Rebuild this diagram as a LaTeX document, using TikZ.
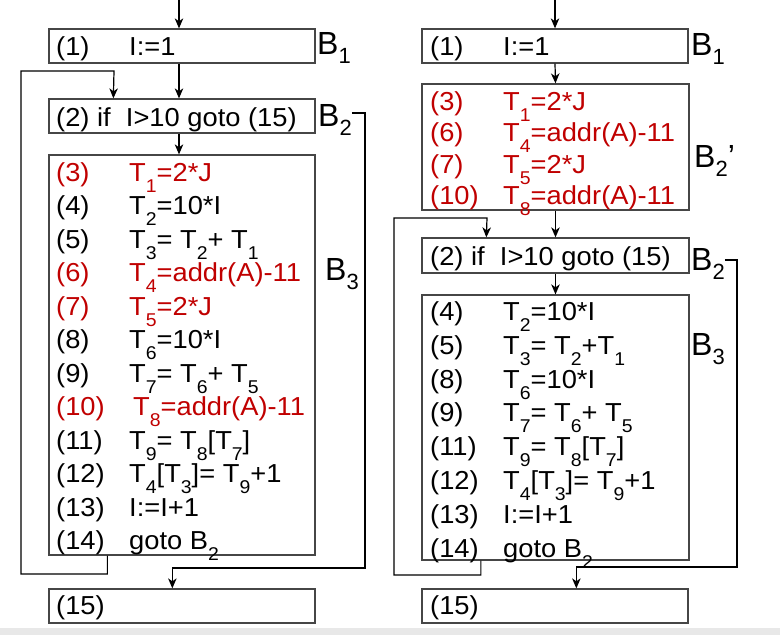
\documentclass[tikz,border=0pt]{standalone}
\usepackage{fontspec}
\setmainfont{Liberation Sans}
\newfontfamily\codefam{Liberation Sans}[FakeStretch=1.05]
\usepackage{xcolor}
\usetikzlibrary{arrows.meta}

\definecolor{codered}{RGB}{192,0,0}
\definecolor{boxline}{RGB}{70,70,70}
% index and statement helpers
\newcommand{\ix}[1]{\raisebox{-11pt}[0pt][0pt]{\fontsize{18.5}{18.5}\selectfont #1}}
\newcommand{\lx}[1]{\raisebox{-9pt}[0pt][0pt]{\fontsize{22}{22}\selectfont #1}}
\newcommand{\stno}[1]{\makebox[73pt][l]{#1}}
\newcommand{\hl}{\color{codered}}

\begin{document}
\begin{tikzpicture}[x=1pt,y=-1pt,
    blk/.style={draw=boxline, line width=1.3pt, inner sep=0pt},
    code/.style={inner sep=0pt, anchor=base west, font=\codefam\fontsize{26}{33.5}\selectfont},
    blab/.style={inner sep=0pt, anchor=base west, font=\fontsize{32}{32}\selectfont},
    arr/.style={line width=1.2pt, -{Stealth[length=10pt,width=8.5pt,inset=3pt]}}]
    \useasboundingbox (0,0) rectangle (780,635);
    \fill[gray!18] (0,628) rectangle (780,635);

    % left: before the move
    \node[blk, minimum width=266pt, minimum height=34pt] (lb1) at (182,46) {};
    \node[blk, minimum width=266pt, minimum height=34pt] (lb2) at (182,116) {};
    \node[blk, minimum width=266pt, minimum height=400pt] (lb3) at (182,355) {};
    \node[blk, minimum width=266pt, minimum height=34pt] (lb15) at (182,606) {};

    \node[code] (lt1) at (56,55) {\stno{(1)}I:=1};
    \node[code] (lt2) at (56,126) {(2) if\ \ I>10 goto (15)};
    \node[code] (lt3) at (56,181) {\begin{tabular}[t]{@{}l@{}}
        \hl\stno{(3)}T\ix{1}=2*J\\
        \stno{(4)}T\ix{2}=10*I\\
        \stno{(5)}T\ix{3}= T\ix{2}+ T\ix{1}\\
        \hl\stno{(6)}T\ix{4}=addr(A)-11\\
        \hl\stno{(7)}T\ix{5}=2*J\\
        \stno{(8)}T\ix{6}=10*I\\
        \stno{(9)}T\ix{7}= T\ix{6}+ T\ix{5}\\
        \hl\makebox[77pt][l]{(10)}T\ix{8}=addr(A)-11\\
        \stno{(11)}T\ix{9}= T\ix{8}[T\ix{7}]\\
        \stno{(12)}T\ix{4}[T\ix{3}]= T\ix{9}+1\\
        \stno{(13)}I:=I+1\\
        \stno{(14)}goto B\ix{2}
    \end{tabular}};
    \node[code] (lt15) at (56,614) {(15)};

    \node[blab] (lB1) at (317,54) {B\lx{1}};
    \node[blab] (lB2) at (318,126) {B\lx{2}};
    \node[blab] (lB3) at (325,280) {B\lx{3}};

    \coordinate (lin) at (179,0);
    \draw[arr] (lin) -- (lin |- lb1.north);
    \draw[arr] ([xshift=-3pt]lb1.south) -- ([xshift=-3pt]lb2.north);
    \draw[arr] ([xshift=-3pt]lb2.south) -- ([xshift=-3pt]lb3.north);
    \draw[arr] ([xshift=59pt]lb3.south west) |- (21,574) |- (114,71) -- ([xshift=65pt]lb2.north west);
    \draw[arr] ([yshift=13pt]lB2.base east) -| (365,568) -| ([xshift=124pt]lb15.north west);

    % right: invariant code hoisted into B2'
    \node[blk, minimum width=266pt, minimum height=34pt] (rb1) at (555,46) {};
    \node[blk, minimum width=267pt, minimum height=126pt] (rb2p) at (555.5,147) {};
    \node[blk, minimum width=267pt, minimum height=35pt] (rb2) at (555.5,255.5) {};
    \node[blk, minimum width=267pt, minimum height=265pt] (rb3) at (555.5,427.5) {};
    \node[blk, minimum width=266pt, minimum height=34pt] (rb15) at (555,606) {};

    \node[code] (rt1) at (430,55) {\stno{(1)}I:=1};
    \node[code, font=\codefam\fontsize{26}{31.5}\selectfont] (rt2p) at (430,110) {\begin{tabular}[t]{@{}l@{}}
        \hl\stno{(3)}T\ix{1}=2*J\\
        \hl\stno{(6)}T\ix{4}=addr(A)-11\\
        \hl\stno{(7)}T\ix{5}=2*J\\
        \hl\stno{(10)}T\ix{8}=addr(A)-11
    \end{tabular}};
    \node[code] (rt2) at (430,265) {(2) if\ \ I>10 goto (15)};
    \node[code, font=\codefam\fontsize{26}{33.8}\selectfont] (rt3) at (430,320.5) {\begin{tabular}[t]{@{}l@{}}
        \stno{(4)}T\ix{2}=10*I\\
        \stno{(5)}T\ix{3}= T\ix{2}+T\ix{1}\\
        \stno{(8)}T\ix{6}=10*I\\
        \stno{(9)}T\ix{7}= T\ix{6}+ T\ix{5}\\
        \stno{(11)}T\ix{9}= T\ix{8}[T\ix{7}]\\
        \stno{(12)}T\ix{4}[T\ix{3}]= T\ix{9}+1\\
        \stno{(13)}I:=I+1\\
        \stno{(14)}goto B\ix{2}
    \end{tabular}};
    \node[code] (rt15) at (430,614) {(15)};

    \node[blab] (rB1) at (691,55) {B\lx{1}};
    \node[blab] (rB2p) at (694,167) {B\lx{2}’};
    \node[blab] (rB2) at (691,270) {B\lx{2}};
    \node[blab] (rB3) at (691,355) {B\lx{3}};

    \coordinate (rin) at (555,0);
    \draw[arr] (rin) -- (rin |- rb1.north);
    \draw[arr] (rb1.south) -- (rb2p.north);
    \draw[arr] (rb2p.south) -- (rb2.north);
    \draw[arr] (rb2.south) -- (rb3.north);
    \draw[arr] ([xshift=59.5pt]rb3.south west) |- (394,575) |- (487,218) -- ([xshift=65pt]rb2.north west);
    \draw[arr] ([yshift=10pt]rB2.base east) -| (737,567) -| ([xshift=155pt]rb15.north west);
\end{tikzpicture}
\end{document}
